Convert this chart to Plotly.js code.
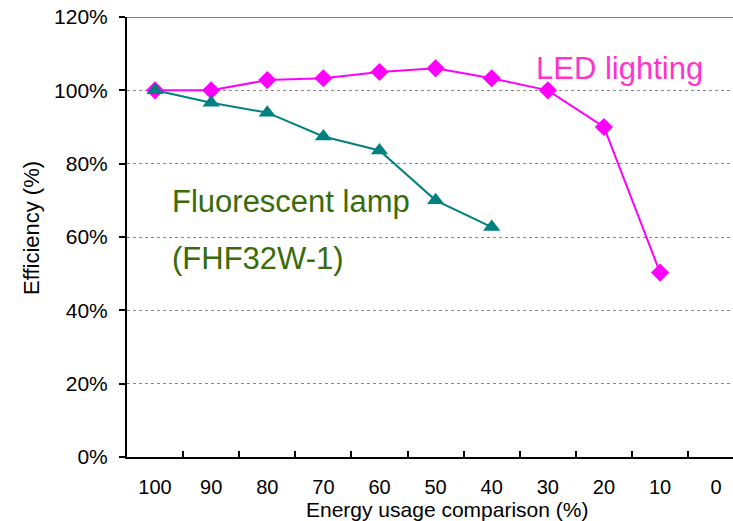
<!DOCTYPE html>
<html>
<head>
<meta charset="utf-8">
<script src="https://cdn.plot.ly/plotly-3.0.1.min.js"></script>
<style>html,body{margin:0;padding:0;background:#fff;}#chart{width:733px;height:521px;}</style>
</head>
<body>
<div id="chart"></div>
<script>
const categories = ["100","90","80","70","60","50","40","30","20","10","0"];
const ledCategories = ["100","90","80","70","60","50","40","30","20","10"];
const ledValues = [100, 100, 102.8, 103.3, 105, 106, 103.3, 100, 90, 50.3];
const fluoCategories = ["100","90","80","70","60","50","40"];
const fluoValues = [100, 96.6, 93.9, 87.4, 83.6, 70, 62.7];
const yTicks = [0, 20, 40, 60, 80, 100, 120];

const FONT = "Liberation Sans, Arial, sans-serif";

const traces = [
  {
    x: ledCategories, y: ledValues, type: "scatter", mode: "lines+markers",
    name: "LED lighting",
    line: {color: "#FF00FF", width: 2},
    marker: {symbol: "diamond", size: 14, color: "#FF00FF"}
  },
  {
    x: fluoCategories, y: fluoValues, type: "scatter", mode: "lines+markers",
    name: "Fluorescent lamp",
    line: {color: "#008080", width: 2},
    marker: {symbol: "triangle-up", size: 15, color: "#008080"}
  }
];

const layout = {
  width: 733, height: 521,
  margin: {l: 127, r: 0, t: 17, b: 64, pad: 0},
  paper_bgcolor: "#fff", plot_bgcolor: "#fff",
  showlegend: false,
  font: {family: FONT, size: 21, color: "#000"},
  xaxis: {
    type: "category",
    categoryorder: "array", categoryarray: categories,
    range: [-0.5, 10.3],
    tickson: "boundaries",
    ticks: "inside", ticklen: 6, tickwidth: 2, tickcolor: "#000",
    showline: true, linecolor: "#000", linewidth: 2,
    showgrid: false, zeroline: false,
    ticklabelstandoff: 11,
    tickfont: {family: FONT, size: 20, color: "#000"}
  },
  yaxis: {
    range: [0, 120],
    tickvals: yTicks,
    ticktext: yTicks.map(v => v + "%"),
    ticks: "outside", ticklen: 6, tickwidth: 2, tickcolor: "#000",
    showline: true, linecolor: "#000", linewidth: 2,
    showgrid: true, gridcolor: "#8a8a8a", gridwidth: 1, griddash: "dot",
    zeroline: false,
    ticklabelstandoff: 7,
    tickfont: {family: FONT, size: 21, color: "#000"}
  },
  shapes: [
    {type: "line", xref: "paper", yref: "y", x0: 0, x1: 1, y0: 120, y1: 120,
     line: {color: "#808080", width: 2}}
  ],
  annotations: [
    {text: "LED lighting", xref: "paper", yref: "paper", x: (619-127)/606, y: (457-68)/440, xanchor: "center", yanchor: "middle",
     showarrow: false, font: {family: FONT, size: 31, color: "#FF33CC"}},
    {text: "Fluorescent lamp", xref: "paper", yref: "paper", x: (170-127)/606, y: (457-201)/440, xanchor: "left", yanchor: "middle",
     showarrow: false, font: {family: FONT, size: 31, color: "#3A6B0A"}},
    {text: "(FHF32W-1)", xref: "paper", yref: "paper", x: (170-127)/606, y: (457-258)/440, xanchor: "left", yanchor: "middle",
     showarrow: false, font: {family: FONT, size: 31, color: "#3A6B0A"}},
    {text: "Energy usage comparison (%)", xref: "paper", yref: "paper", x: (447-127)/606, y: (457-509)/440, xanchor: "center", yanchor: "middle",
     showarrow: false, font: {family: FONT, size: 21, color: "#000"}},
    {text: "Efficiency (%)", xref: "paper", yref: "paper", x: (32-127)/606, y: (457-228)/440, xanchor: "center", yanchor: "middle",
     textangle: -90, showarrow: false, font: {family: FONT, size: 22, color: "#000"}}
  ]
};

Plotly.newPlot("chart", traces, layout, {displayModeBar: false, staticPlot: true});
</script>
</body>
</html>
